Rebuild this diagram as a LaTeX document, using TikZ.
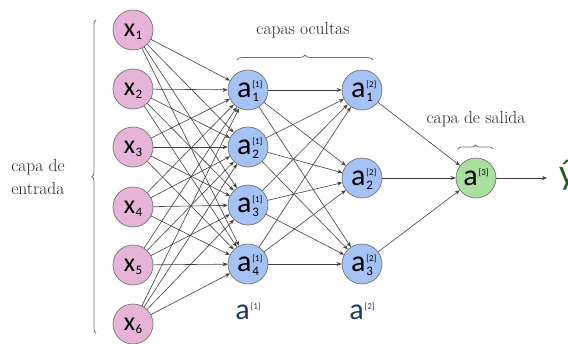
\documentclass[tikz,border=0pt]{standalone}
\usepackage{fontspec}
\newfontfamily\calib{Carlito}
\usetikzlibrary{arrows.meta,decorations.pathreplacing}
\definecolor{pinkc}{HTML}{E6B4D7}
\definecolor{bluec}{HTML}{A4C2F4}
\definecolor{greenc}{HTML}{A9E0A0}
\definecolor{navyc}{HTML}{1F3864}
\definecolor{yhatc}{HTML}{1A5E1A}
\newcommand{\intxt}[1]{{\fontsize{26}{26}\selectfont x}\kern0.5pt\smash{\raisebox{-3pt}{\fontsize{13}{13}\selectfont #1}}}
\newcommand{\hidtxt}[2]{{\fontsize{30}{30}\selectfont a}\kern1pt\smash{\rlap{\raisebox{10pt}{\fontsize{9}{9}\selectfont [#1]}}\raisebox{-4pt}{\fontsize{13}{13}\selectfont #2}}}
\newcommand{\suptxt}[1]{{\fontsize{30}{30}\selectfont a}\kern1pt\smash{\raisebox{10pt}{\fontsize{9}{9}\selectfont [#1]}}}
\begin{document}
\begin{tikzpicture}[x=1pt,y=-1pt,
  neuron/.style={circle, draw=black!55, line width=0.7pt, minimum size=40pt, inner sep=0pt, font=\calib},
  inp/.style={neuron, fill=pinkc},
  hid/.style={neuron, fill=bluec},
  outn/.style={neuron, fill=greenc},
  conn/.style={draw=black!75, line width=0.6pt, -{Stealth[length=5pt,width=4pt]}},
  lbl/.style={font=\rmfamily\fontsize{17.5}{23}\selectfont, text=black!85},
  brc/.style={draw=black!55, line width=0.8pt, decorate},
  laylbl/.style={font=\calib, text=navyc}]
\useasboundingbox (0,0) rectangle (568,343);
% input layer
\foreach \i/\y in {1/30,2/89,3/147,4/207,5/265,6/324}
  \node[inp] (x\i) at (133,\y) {\intxt{\i}};
% hidden layer 1
\foreach \i/\y in {1/90,2/147,3/205,4/264}
  \node[hid] (h\i) at (248,\y) {\hidtxt{1}{\i}};
% hidden layer 2
\foreach \i/\y in {1/90,2/178,3/264}
  \node[hid] (g\i) at (362,\y) {\hidtxt{2}{\i}};
% output
\node[outn] (o) at (476,178) {\suptxt{3}};
\node[anchor=base west, inner sep=0pt, inner xsep=12pt, font=\calib\fontsize{36}{36}\selectfont, text=yhatc] (yh) at (547,184) {ŷ};
% connections
\foreach \i in {1,...,6}
  \foreach \j in {1,...,4}
    \draw[conn] (x\i) -- (h\j);
\foreach \i in {1,...,4}
  \foreach \j in {1,...,3}
    \draw[conn] (h\i) -- (g\j);
\foreach \j in {1,...,3}
  \draw[conn] (g\j) -- (o);
\draw[conn] (o) -- (o -| yh.west);
% braces
\draw[brc, decoration={brace, amplitude=5pt}] (237,60) -- (373,60);
\draw[brc, decoration={brace, amplitude=4pt}] (458,149) -- (493,149);
\draw[brc, decoration={brace, amplitude=4pt}] (96,333) -- (96,20);
% labels
\node[lbl] (lh) at (303,30) {capas ocultas};
\node[lbl] (lo) at (476,119) {capa de salida};
\node[lbl, align=left] (li) at (38,177) {capa de\\entrada};
\node[laylbl] (l1) at (248,312) {\suptxt{1}};
\node[laylbl] (l2) at (362,312) {\suptxt{2}};
\end{tikzpicture}
\end{document}
